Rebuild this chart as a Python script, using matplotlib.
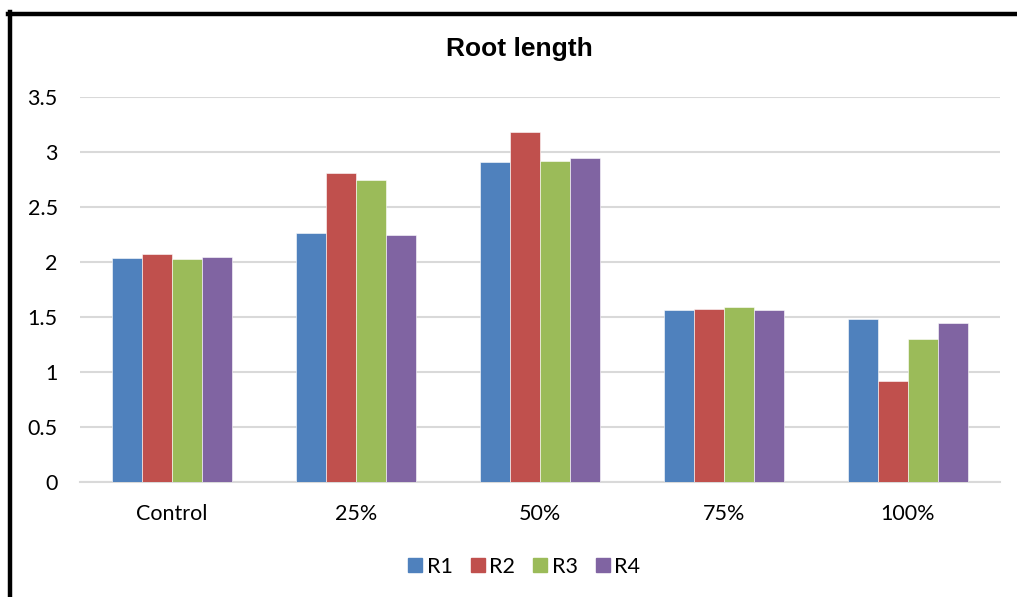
import matplotlib
matplotlib.use("Agg")
import matplotlib.pyplot as plt
from matplotlib.lines import Line2D
import numpy as np

categories = ["Control", "25%", "50%", "75%", "100%"]
series_names = ["R1", "R2", "R3", "R4"]
r1 = [2.04, 2.26, 2.91, 1.56, 1.48]
r2 = [2.07, 2.81, 3.18, 1.57, 0.92]
r3 = [2.03, 2.75, 2.92, 1.59, 1.30]
r4 = [2.05, 2.25, 2.95, 1.56, 1.45]
colors = ["#4F81BD", "#C0504D", "#9BBB59", "#8064A2"]

W, H = 1017, 597
fig = plt.figure(figsize=(W / 100, H / 100), dpi=100)
ax = fig.add_axes([80 / W, 1 - 482 / H, 920 / W, 385 / H])

x = np.arange(len(categories))
bw = 0.162
for j, vals in enumerate([r1, r2, r3, r4]):
    ax.bar(x + (j - 1.5) * bw, vals, bw, color=colors[j], label=series_names[j],
           edgecolor="white", linewidth=0.4, zorder=3)

ax.set_xlim(-0.5, len(categories) - 0.5)
ax.set_ylim(0, 3.5)
ax.set_yticks(np.arange(0, 3.51, 0.5))
ax.set_yticklabels(["0", "0.5", "1", "1.5", "2", "2.5", "3", "3.5"])
ax.set_xticks(x)
ax.set_xticklabels(categories)
ax.grid(axis="y", color="#D9D9D9", linewidth=1.5, zorder=0)
for s in ["top", "right", "left"]:
    ax.spines[s].set_visible(False)
ax.spines["bottom"].set_color("#D9D9D9")
ax.spines["bottom"].set_linewidth(1.5)
ax.tick_params(axis="both", length=0, labelsize=15.5, labelcolor="black")
ax.tick_params(axis="y", pad=16)
ax.tick_params(axis="x", pad=16)
for lab in ax.get_xticklabels() + ax.get_yticklabels():
    lab.set_family("Lato")

fig.text(519 / W, 1 - 49 / H, "Root length", ha="center", va="center",
         fontsize=19, fontweight="bold", family="Liberation Sans")

handles = [Line2D([], [], marker="s", linestyle="none", markersize=10,
                  markerfacecolor=c, markeredgecolor=c) for c in colors]
fig.legend(handles, series_names, loc="center", bbox_to_anchor=(524 / W, 1 - 567 / H),
           ncol=4, frameon=False, handlelength=0.7, handletextpad=0.2, columnspacing=0.8,
           prop={"family": "Lato", "size": 15.5})

# black chart border (left and top)
fig.add_artist(Line2D([10 / W, 10 / W], [0, 1 - 12 / H], color="black", linewidth=3.2,
                      transform=fig.transFigure))
fig.add_artist(Line2D([8 / W, 1], [1 - 14 / H, 1 - 14 / H], color="black", linewidth=3.2,
                      transform=fig.transFigure))

fig.savefig("out.png", dpi=100)
